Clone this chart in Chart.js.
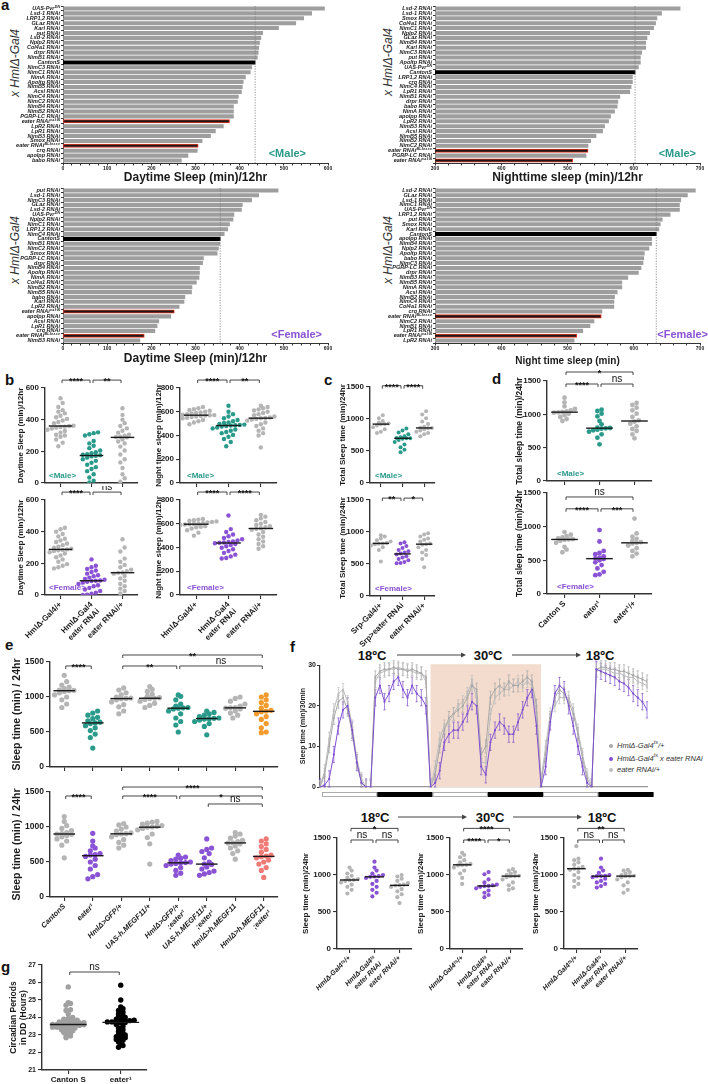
<!DOCTYPE html>
<html>
<head>
<meta charset="utf-8">
<script src="https://cdn.jsdelivr.net/npm/chart.js@4.4.0/dist/chart.umd.min.js"></script>
<style>
  body { margin: 0; width: 708px; height: 1084px; background: #fff; position: relative; overflow: hidden;
         font-family: "Liberation Sans", Arial, sans-serif; color: #111; }
  canvas { position: absolute; }
  .pl { position: absolute; font-weight: bold; font-size: 15px; line-height: 15px; }
  .tmp { position: absolute; font-weight: bold; font-size: 13px; transform: translate(-50%, -50%); white-space: nowrap; }
  .vt { position: absolute; transform: translate(-50%, -50%) rotate(-90deg); white-space: nowrap;
        font-style: italic; font-size: 12px; color: #333; }
  .leg { position: absolute; font-style: italic; font-size: 7.5px; color: #333; white-space: nowrap; }
  .leg span { display: inline-block; width: 4px; height: 4px; border-radius: 50%; margin-right: 4px; vertical-align: middle; }
  .leg sup { font-size: 5.5px; }
</style>
</head>
<body>
<div class="pl" style="left:1px;top:-3px">a</div>
<div class="pl" style="left:5px;top:372px">b</div>
<div class="pl" style="left:324px;top:372px">c</div>
<div class="pl" style="left:492px;top:371px">d</div>
<div class="pl" style="left:5px;top:637px">e</div>
<div class="pl" style="left:290px;top:639px">f</div>
<div class="pl" style="left:1px;top:959px">g</div>

<div class="vt" style="left:15px;top:63px">x HmlΔ-Gal4</div>
<div class="vt" style="left:388px;top:62px">x HmlΔ-Gal4</div>
<div class="vt" style="left:15px;top:250px">x HmlΔ-Gal4</div>
<div class="vt" style="left:388px;top:250px">x HmlΔ-Gal4</div>

<div class="tmp" style="left:372px;top:655px">18ºC</div>
<div class="tmp" style="left:488px;top:655px">30ºC</div>
<div class="tmp" style="left:600px;top:655px">18ºC</div>
<div class="tmp" style="left:375px;top:817px">18ºC</div>
<div class="tmp" style="left:490px;top:817px">30ºC</div>
<div class="tmp" style="left:602px;top:817px">18ºC</div>

<svg width="708" height="1084" style="position:absolute;left:0;top:0">
  <g stroke="#444" stroke-width="1">
    <line x1="397" y1="655" x2="462" y2="655"/><line x1="512" y1="655" x2="577" y2="655"/>
    <line x1="398" y1="817" x2="463" y2="817"/><line x1="513" y1="817" x2="578" y2="817"/>
  </g>
  <g fill="#444">
    <polygon points="461,652.5 466,655 461,657.5"/><polygon points="576,652.5 581,655 576,657.5"/>
    <polygon points="462,814.5 467,817 462,819.5"/><polygon points="577,814.5 582,817 577,819.5"/>
  </g>
</svg>

<div class="leg" style="left:609px;top:739px"><span style="background:#a8a8a8"></span>HmlΔ-Gal4<sup>ts</sup>/+</div>
<div class="leg" style="left:609px;top:752px"><span style="background:#8050d0"></span>HmlΔ-Gal4<sup>ts</sup> x eater RNAi</div>
<div class="leg" style="left:609px;top:765px"><span style="background:#bdbdbd"></span>eater RNAi/+</div>

<script>
// ---------- panel a: screen bars ----------
const aMaleDayLabels = ['UAS-Pvrᴰᴺ', 'Lsd-1 RNAi', 'LRP1,2 RNAi', 'GLaz RNAi', 'Karl RNAi', 'put RNAi', 'Lsd-2 RNAi', 'Nplp2 RNAi',
  'Col4a1 RNAi', 'drpr RNAi', 'NimB1 RNAi', 'CantonS', 'NimC3 RNAi', 'NimC1 RNAi', 'NimA RNAi', 'Apoltp RNAi', 'NimB5 RNAi',
  'Acsl RNAi', 'NimC4 RNAi', 'NimC2 RNAi', 'NimB4 RNAi', 'NimB2 RNAi', 'PGRP-LC RNAi', 'eater RNAiᵛ⁴³⁰¹', 'LpR2 RNAi', 'LpR1 RNAi',
  'NimB3 RNAi', 'Smox RNAi', 'eater RNAiᴮᴸ³⁵⁶⁶⁵', 'crq RNAi', 'apolpp RNAi', 'babo RNAi'];
const aMaleDayVals = [592, 563, 545, 527, 488, 452, 448, 445, 443, 442, 440, 435, 427, 424, 413, 408, 406,
  404, 397, 395, 386, 386, 386, 377, 363, 345, 334, 315, 306, 304, 283, 268];

const aMaleNightLabels = ['Lsd-2 RNAi', 'Lsd-1 RNAi', 'Smox RNAi', 'Col4a1 RNAi', 'NimC1 RNAi', 'Nplp2 RNAi', 'GLaz RNAi', 'NimB4 RNAi',
  'Karl RNAi', 'NimC3 RNAi', 'put RNAi', 'Apoltp RNAi', 'UAS-Pvrᴰᴺ', 'CantonS', 'LRP1,2 RNAi', 'crq RNAi', 'NimC4 RNAi', 'LpR1 RNAi',
  'NimB1 RNAi', 'drpr RNAi', 'babo RNAi', 'NimA RNAi', 'apolpp RNAi', 'LpR2 RNAi', 'NimB3 RNAi', 'Acsl RNAi', 'NimB5 RNAi',
  'NimB2 RNAi', 'NimC2 RNAi', 'eater RNAiᴮᴸ³⁵⁶⁶⁵', 'PGRP-LC RNAi', 'eater RNAiᵛ⁴³⁰¹'];
const aMaleNightVals = [670, 642, 635, 633, 630, 624, 620, 618, 618, 612, 610, 610, 607, 602, 598, 598, 596, 594,
  579, 576, 575, 571, 565, 562, 556, 553, 543, 535, 531, 531, 528, 508];

const aFemDayLabels = ['put RNAi', 'Lsd-1 RNAi', 'NimC3 RNAi', 'GLaz RNAi', 'Lsd-2 RNAi', 'UAS-Pvrᴰᴺ', 'Nplp2 RNAi', 'NimC1 RNAi',
  'LRP1,2 RNAi', 'NimC4 RNAi', 'CantonS', 'NimB1 RNAi', 'NimC2 RNAi', 'Smox RNAi', 'PGRP-LC RNAi', 'drpr RNAi', 'NimB4 RNAi',
  'Apoltp RNAi', 'NimA RNAi', 'Col4a1 RNAi', 'NimB2 RNAi', 'NimB5 RNAi', 'babo RNAi', 'Karl RNAi', 'LpR2 RNAi', 'eater RNAiᵛ⁴³⁰¹',
  'apolpp RNAi', 'Acsl RNAi', 'LpR1 RNAi', 'crq RNAi', 'eater RNAiᴮᴸ³⁵⁶⁶⁵', 'NimB3 RNAi'];
const aFemDayVals = [487, 443, 427, 406, 404, 387, 385, 377, 373, 365, 356, 355, 352, 349, 318, 316, 309,
  309, 308, 302, 292, 291, 276, 274, 263, 252, 244, 217, 213, 208, 184, 174];

const aFemNightLabels = ['Lsd-2 RNAi', 'GLaz RNAi', 'Lsd-1 RNAi', 'NimC1 RNAi', 'UAS-Pvrᴰᴺ', 'LRP1,2 RNAi', 'put RNAi', 'Smox RNAi',
  'Karl RNAi', 'CantonS', 'apolpp RNAi', 'NimB4 RNAi', 'Nplp2 RNAi', 'Apoltp RNAi', 'babo RNAi', 'NimC3 RNAi', 'PGRP-LC RNAi',
  'drpr RNAi', 'NimB3 RNAi', 'NimB5 RNAi', 'NimA RNAi', 'Acsl RNAi', 'NimB2 RNAi', 'NimC4 RNAi', 'Col4a1 RNAi', 'crq RNAi',
  'eater RNAiᴮᴸ³⁵⁶⁶⁵', 'NimC2 RNAi', 'NimB1 RNAi', 'LpR1 RNAi', 'eater RNAiᵛ⁴³⁰¹', 'LpR2 RNAi'];
const aFemNightVals = [693, 681, 671, 669, 669, 655, 643, 640, 638, 634, 627, 627, 623, 616, 615, 614, 611,
  607, 591, 582, 582, 575, 571, 570, 570, 552, 551, 540, 534, 523, 514, 510];

// ---------- panel b ----------
const bCats = ['HmlΔ-Gal4/+', ['HmlΔ-Gal4', 'eater RNAi'], 'eater RNAi/+'];
const bMaleDayHml = [535, 505, 480, 460, 450, 440, 425, 415, 405, 395, 385, 378, 362, 360, 356, 354, 350, 344, 336, 328, 318, 305, 292, 275, 255, 232, 300];
const bMaleDayRnai = [320, 315, 308, 300, 265, 250, 235, 220, 205, 195, 188, 182, 178, 175, 172, 168, 160, 150, 140, 128, 115, 100, 88, 75, 55, 35, 15, 3];
const bMaleDayCtl = [472, 430, 400, 378, 360, 345, 330, 318, 305, 298, 292, 290, 288, 275, 262, 250, 230, 205, 180, 150, 130, 95, 55, 30, 8];
const bMaleNightHml = [640, 630, 622, 615, 608, 600, 595, 590, 585, 580, 576, 572, 570, 568, 565, 560, 555, 550, 545, 538, 530, 520, 510, 495];
const bMaleNightRnai = [650, 600, 580, 560, 545, 530, 520, 510, 505, 498, 492, 488, 486, 484, 480, 475, 468, 460, 450, 440, 430, 420, 405, 390, 370, 345, 310];
const bMaleNightCtl = [650, 640, 630, 620, 610, 600, 590, 580, 570, 560, 552, 547, 545, 540, 535, 525, 510, 495, 480, 460, 440, 420, 400, 300];
const bFemDayHml = [425, 415, 400, 385, 370, 355, 345, 335, 325, 315, 305, 298, 292, 288, 285, 282, 278, 270, 262, 250, 238, 225, 210, 195, 185, 175, 168];
const bFemDayRnai = [225, 185, 175, 165, 155, 145, 135, 125, 118, 110, 102, 96, 92, 90, 88, 84, 78, 70, 62, 55, 45, 35, 25, 15, 8, 2, 0];
const bFemDayCtl = [352, 300, 275, 230, 210, 190, 175, 160, 150, 142, 140, 135, 120, 105, 90, 70, 55, 40, 25, 10];
const bFemNightHml = [640, 635, 630, 625, 620, 615, 610, 605, 600, 598, 596, 594, 590, 585, 580, 575, 570, 560, 545, 525, 500];
const bFemNightRnai = [670, 555, 530, 510, 495, 480, 470, 460, 452, 446, 442, 440, 436, 430, 422, 410, 398, 385, 370, 355, 340, 325, 312, 308];
const bFemNightCtl = [675, 660, 645, 630, 615, 600, 590, 580, 570, 562, 558, 550, 530, 510, 490, 470, 450, 430, 410, 390];

// ---------- panel c ----------
const cCats = ['Srp-Gal4/+', 'Srp>eater RNAi', 'eater RNAi/+'];
const cMaleSrp = [1060, 1010, 970, 945, 930, 922, 918, 900, 870, 840, 800, 780];
const cMaleRnai = [850, 820, 790, 760, 730, 715, 705, 700, 698, 690, 670, 640, 600, 560, 520, 480];
const cMaleCtl = [1120, 1070, 1010, 960, 920, 880, 865, 860, 855, 840, 820, 800, 780, 760, 730];
const cFemSrp = [950, 930, 900, 870, 850, 830, 822, 818, 810, 790, 760, 720, 540];
const cFemRnai = [840, 820, 780, 750, 720, 700, 680, 665, 650, 620, 600, 580, 560, 530, 515, 510];
const cFemCtl = [980, 960, 930, 900, 880, 850, 820, 810, 800, 760, 720, 680, 640, 580, 450];

// ---------- panel d ----------
const dCats = ['Canton S', 'eater¹', 'eater¹/+'];
const dMaleCS = [1250, 1180, 1120, 1080, 1060, 1045, 1035, 1030, 1025, 1010, 990, 960, 930, 900];
const dMaleEater = [1070, 1050, 1010, 970, 900, 850, 800, 795, 790, 785, 770, 760, 740, 700, 650, 550];
const dMaleHet = [1170, 1140, 1100, 1060, 1010, 960, 910, 890, 860, 820, 780, 750, 700, 640];
const dFemCS = [920, 880, 860, 840, 825, 815, 810, 805, 790, 760, 700, 660, 620];
const dFemEater = [950, 780, 640, 610, 590, 560, 540, 530, 520, 500, 470, 430, 380, 330, 290, 280];
const dFemHet = [1120, 900, 850, 820, 790, 770, 760, 750, 720, 680, 640, 600, 560];

// ---------- panel e ----------
const eCats = ['CantonS', 'eater¹', 'HmlΔ>GFP/+', 'UAS-h.MEGF11/+', ['HmlΔ>GFP/+', ';eater¹'],
  ['UAS-h.MEGF11/+', ';eater¹'], 'HmlΔ>h.MEGF11', ['HmlΔ>h.MEGF11', ';eater¹']];
const eTop = [
  [1310, 1220, 1170, 1140, 1120, 1100, 1095, 1090, 1080, 1060, 1030, 1000, 960, 900, 850],
  [800, 770, 740, 710, 690, 660, 640, 630, 620, 590, 560, 520, 470, 420, 270],
  [1130, 1100, 1060, 1030, 1000, 985, 980, 975, 960, 930, 890, 860, 800, 760],
  [1150, 1110, 1080, 1040, 1010, 990, 982, 978, 965, 940, 910, 880, 850],
  [1030, 1010, 960, 900, 870, 850, 845, 840, 830, 800, 760, 700, 650, 600, 500],
  [800, 780, 760, 740, 720, 700, 695, 690, 685, 670, 650, 620, 580, 460],
  [1000, 980, 940, 900, 870, 850, 845, 840, 830, 800, 770, 740, 700],
  [1030, 1000, 960, 920, 880, 840, 810, 800, 790, 760, 720, 680, 620, 560, 500, 490]
];
const eBottom = [
  [1150, 1080, 1020, 980, 950, 920, 905, 900, 895, 880, 860, 830, 800, 740, 560],
  [910, 800, 730, 700, 660, 620, 605, 600, 580, 540, 500, 450, 400, 320, 290, 260],
  [1050, 1030, 1000, 970, 940, 915, 905, 900, 890, 860, 820, 780, 740, 700],
  [1080, 1070, 1055, 1040, 1020, 1010, 1000, 995, 980, 960, 900, 850, 760, 470],
  [600, 570, 555, 540, 520, 500, 492, 488, 480, 470, 450, 420, 380, 340, 310],
  [830, 700, 680, 650, 620, 560, 500, 470, 465, 430, 400, 370, 350, 330, 310],
  [920, 900, 870, 840, 810, 790, 775, 770, 760, 730, 700, 660, 620, 540],
  [830, 800, 760, 720, 680, 640, 600, 585, 575, 560, 530, 500, 470, 420, 380, 280]
];

// ---------- panel f ----------
const fHmlTs = [0, 3, 10, 17, 21, 22, 19, 13, 6, 1, 0, 0,
  27, 28.5, 29, 29, 29.5, 29, 29, 28.5, 29, 28.5, 28, 27,
  0, 3, 10, 14, 17, 18, 19, 20, 22, 25, 24, 8,
  10, 22, 24, 25, 24, 26, 25, 25, 26, 27, 26, 20,
  1, 8, 17, 22, 24, 23, 21, 18, 13, 7, 2, 0,
  29, 29.5, 29.5, 29, 29, 28.5, 28.5, 28, 27.5, 27, 26.5, 26];
const fHmlTsEater = [0, 0.5, 2, 8, 15, 19, 20, 14, 6, 1, 0, 0,
  22, 25, 21, 23, 26, 27, 24, 22, 25, 23, 22, 20,
  0, 1, 4, 11, 13, 14, 14, 16, 18, 21, 20, 5,
  3, 11, 14, 16, 15, 13, 13, 16, 19, 22, 24, 15,
  0, 5, 16, 23, 25, 24, 20, 15, 10, 5, 1, 0,
  29, 28.5, 28, 27.5, 27, 26, 25.5, 24.5, 23, 22, 21, 19];
const fEaterCtl = [0, 4, 12, 19, 23, 24, 21, 15, 7, 2, 0, 0,
  26, 28, 28.5, 29, 29, 29.5, 29, 29, 28.5, 28, 28, 26,
  0, 5, 12, 15, 16, 18, 20, 21, 23, 26, 22, 6,
  6, 18, 22, 23, 24, 24, 25, 26, 25, 26, 25, 18,
  2, 10, 18, 20, 22, 22, 22, 19, 14, 8, 3, 0.5,
  28.5, 29, 29, 28.5, 28, 28, 27.5, 27, 27, 26, 25.5, 25];
const fSem = [1.6, 2.0, 1.5];           // Hml/+, Hml x eater RNAi, eater RNAi/+
const ldPhases = ['L', 'D', 'L', 'D', 'L', 'D'];   // 12 h each
const hotHours = [24, 48];              // 30ºC window

const fCats = ['HmlΔ-Gal4ᵗˢ/+', ['HmlΔ-Gal4ᵗˢ', 'eater RNAi'], 'eater RNAi/+'];
const f18a = [
  [1100, 1060, 1020, 990, 960, 945, 935, 930, 920, 900, 870, 840, 800, 750],
  [1180, 1100, 1060, 1020, 1000, 985, 980, 975, 960, 920, 880, 840, 800, 760, 710],
  [1000, 980, 950, 920, 890, 870, 862, 858, 840, 810, 780, 740, 700, 620]
];
const f30 = [
  [1300, 1270, 1240, 1200, 1170, 1150, 1140, 1135, 1130, 1100, 1060, 1020, 960, 880],
  [1040, 1010, 940, 900, 870, 860, 852, 850, 840, 820, 790, 760, 730, 700],
  [1080, 1060, 1040, 1020, 1000, 990, 986, 984, 970, 940, 900, 860, 820, 800]
];
const f18b = [
  [1390, 1220, 1200, 1170, 1140, 1110, 1090, 1085, 1070, 1040, 1000, 960, 920, 880, 840],
  [1220, 1100, 1060, 1030, 1000, 990, 986, 984, 970, 950, 920, 900, 880, 850, 830],
  [1070, 1060, 1040, 1020, 1000, 990, 986, 984, 970, 940, 900, 860, 800, 760]
];

// ---------- panel g ----------
const gCats = ['Canton S', 'eater¹'];
const gCantonS = [25.75, 24.85, 24.8, 24.7, 24.45, 24.4, 24.2, 24.0, 23.95, 23.9, 23.85, 23.8, 23.8, 23.75, 23.75, 23.7,
  23.7, 23.65, 23.65, 23.62, 23.6, 23.6, 23.6, 23.58, 23.55, 23.55, 23.5, 23.5, 23.5, 23.45, 23.45, 23.4, 23.4, 23.35,
  23.3, 23.25, 23.2, 23.15, 23.1, 23.0, 22.95, 22.85];
const gEater = [25.85, 25.0, 24.6, 24.5, 24.4, 24.3, 24.2, 24.1, 24.05, 24.0, 23.95, 23.9, 23.85, 23.82, 23.8, 23.78,
  23.76, 23.75, 23.75, 23.72, 23.7, 23.6, 23.5, 23.4, 23.3, 23.2, 23.1, 23.05, 23.0, 22.95, 22.9, 22.85, 22.8, 22.75,
  22.7, 22.6, 22.45, 22.4, 22.3];

// ---------- colours ----------
const GRAY = '#b5b5b5', TEAL = '#2a9a8a', PURPLE = '#8a52d4', ORANGE = '#f39a2c', SALMON = '#f07a76', AX = '#333';

Chart.defaults.font.family = '"Liberation Sans", Arial, sans-serif';
Chart.defaults.color = '#1a1a1a';
Chart.defaults.animation = false;
Chart.defaults.responsive = false;
Chart.defaults.events = [];
Chart.defaults.plugins.legend.display = false;
Chart.defaults.plugins.tooltip.enabled = false;

function place(x0, y0, x1, y1, m) {
  const c = document.createElement('canvas');
  const w = x1 - x0 + m.l + m.r, h = y1 - y0 + m.t + m.b;
  c.width = w; c.height = h;
  c.style.left = (x0 - m.l) + 'px'; c.style.top = (y0 - m.t) + 'px';
  c.style.width = w + 'px'; c.style.height = h + 'px';
  document.body.appendChild(c);
  return c;
}

function median(a) {
  const s = a.slice().sort((p, q) => p - q), n = s.length;
  return n % 2 ? s[(n - 1) / 2] : (s[n / 2 - 1] + s[n / 2]) / 2;
}

// spread dots of similar value sideways (scatter dot plot look)
function swarm(vals, cat, bin, dx) {
  const s = vals.slice().sort((p, q) => p - q), pts = [];
  let i = 0;
  while (i < s.length) {
    let j = i;
    while (j < s.length && s[j] - s[i] < bin) j++;
    const n = j - i;
    for (let k = 0; k < n; k++) pts.push({ x: cat + (k - (n - 1) / 2) * dx, y: s[i + k] });
    i = j;
  }
  return pts;
}

const refLine = {
  id: 'refline',
  afterDatasetsDraw(chart, args, o) {
    const { ctx, chartArea: ca, scales: { x } } = chart;
    const px = x.getPixelForValue(o.value);
    ctx.save(); ctx.strokeStyle = '#777'; ctx.lineWidth = 0.8; ctx.setLineDash([1.2, 1.4]);
    ctx.beginPath(); ctx.moveTo(px, ca.top); ctx.lineTo(px, ca.bottom); ctx.stroke(); ctx.restore();
  }
};

const tagPlugin = {
  id: 'tag',
  afterDraw(chart, args, o) {
    if (!o.text) return;
    const { ctx, chartArea: ca } = chart;
    ctx.save(); ctx.font = 'bold ' + o.size + 'px "Liberation Sans", Arial'; ctx.fillStyle = o.color;
    ctx.textAlign = o.align; ctx.textBaseline = 'middle';
    ctx.fillText(o.text, o.align === 'left' ? ca.left + o.dx : ca.right - o.dx, ca.bottom - o.dy);
    ctx.restore();
  }
};

const medianPlugin = {
  id: 'medians',
  afterDatasetsDraw(chart, args, o) {
    const { ctx, scales: { x, y } } = chart;
    ctx.save(); ctx.strokeStyle = '#1a1a1a'; ctx.lineWidth = 1.4;
    chart.data.datasets.forEach(ds => {
      const py = y.getPixelForValue(median(ds.vals));
      ctx.beginPath(); ctx.moveTo(x.getPixelForValue(ds.cat - o.half), py);
      ctx.lineTo(x.getPixelForValue(ds.cat + o.half), py); ctx.stroke();
    });
    ctx.restore();
  }
};

const bracketPlugin = {
  id: 'brackets',
  afterDraw(chart, args, o) {
    const { ctx, scales: { x, y } } = chart;
    ctx.save(); ctx.strokeStyle = '#333'; ctx.fillStyle = '#111'; ctx.lineWidth = 0.9; ctx.textAlign = 'center';
    (o.list || []).forEach(b => {
      const x1 = x.getPixelForValue(b[0]) + 1.5, x2 = x.getPixelForValue(b[1]) - 1.5, py = y.getPixelForValue(b[2]);
      ctx.beginPath(); ctx.moveTo(x1, py + 3); ctx.lineTo(x1, py); ctx.lineTo(x2, py); ctx.lineTo(x2, py + 3); ctx.stroke();
      if (b[3] === 'ns') {
        ctx.font = '10px "Liberation Sans", Arial'; ctx.textBaseline = 'bottom'; ctx.fillText('ns', (x1 + x2) / 2, py);
      } else {
        ctx.font = 'bold 9px "Liberation Sans", Arial'; ctx.textBaseline = 'alphabetic'; ctx.fillText(b[3], (x1 + x2) / 2, py + 4);
      }
    });
    ctx.restore();
  }
};

function hbar(o) {
  const cv = place(o.x0, o.y0, o.x1, o.y1, o.m);
  const isE = l => l.startsWith('eater');
  new Chart(cv, {
    type: 'bar',
    data: {
      labels: o.labels,
      datasets: [{
        data: o.vals,
        backgroundColor: o.labels.map(l => l === 'CantonS' ? '#000' : isE(l) ? '#1a1a1a' : '#9e9e9e'),
        borderColor: o.labels.map(l => isE(l) ? '#e8321e' : 'rgba(0,0,0,0)'),
        borderWidth: o.labels.map(l => isE(l) ? 1 : 0),
        borderSkipped: false,
        barThickness: 3.4
      }]
    },
    options: {
      indexAxis: 'y',
      layout: { padding: { top: o.m.t, right: o.m.r, left: 0, bottom: 0 } },
      scales: {
        y: {
          afterFit: s => { s.width = o.m.l; },
          ticks: { autoSkip: false, padding: 1, color: '#222', font: { size: 5.5, style: 'italic', weight: 'bold' } },
          grid: { drawOnChartArea: false, tickLength: 2, color: AX },
          border: { color: AX, width: 1 }
        },
        x: {
          min: o.min, max: o.max,
          afterFit: s => { s.height = o.m.b; },
          ticks: { stepSize: 20, autoSkip: false, maxRotation: 0, padding: 0,
                   callback: v => v % 100 === 0 ? String(v) : '', font: { size: 5, weight: 'bold' } },
          grid: { drawOnChartArea: false, tickLength: 2.5, color: AX },
          border: { color: AX, width: 1 },
          title: { display: true, text: o.title, font: { size: o.tsize, weight: 'bold' }, padding: { top: 0, bottom: 1 } }
        }
      },
      plugins: {
        refline: { value: o.vals[o.labels.indexOf('CantonS')] },
        tag: o.tag
      }
    },
    plugins: [refLine, tagPlugin]
  });
}

function dots(o) {
  const cv = place(o.x0, o.y0, o.x1, o.y1, o.m);
  const n = o.cats.length;
  const datasets = o.groups.map((g, i) => ({
    data: swarm(g[0], i, o.bin, o.dx), vals: g[0], cat: i,
    backgroundColor: g[1], pointRadius: o.r, pointBorderWidth: 0
  }));
  new Chart(cv, {
    type: 'scatter',
    data: { datasets },
    options: {
      layout: { padding: { top: o.m.t, right: o.m.r, left: 0, bottom: 0 } },
      scales: {
        x: {
          type: 'linear', min: -0.5, max: n - 0.5,
          afterBuildTicks: s => { s.ticks = o.cats.map((c, i) => ({ value: i })); },
          afterFit: s => { s.height = o.m.b; },
          ticks: { display: !!o.showX, autoSkip: false, minRotation: o.rot || 0, maxRotation: o.rot || 0, padding: 1,
                   callback: v => o.cats[Math.round(v)], font: o.xfont || { size: 8, weight: 'bold' } },
          grid: { drawOnChartArea: false, tickLength: 4, color: AX, lineWidth: 1.1 },
          border: { color: AX, width: 1.4 }
        },
        y: {
          min: o.ymin, max: o.ymax,
          afterFit: s => { s.width = o.m.l; },
          ticks: { stepSize: o.step, padding: 2, callback: v => String(v), font: { size: o.tick || 8, weight: 'bold' } },
          grid: { drawOnChartArea: false, tickLength: 4, color: AX, lineWidth: 1.1 },
          border: { color: AX, width: 1.4 },
          title: { display: true, text: o.ytitle, font: { size: o.tfs, weight: 'bold' }, padding: { top: o.tpad, bottom: 0 } }
        }
      },
      plugins: { medians: { half: o.half || 0.38 }, brackets: { list: o.br }, tag: o.tag || {} }
    },
    plugins: [medianPlugin, bracketPlugin, tagPlugin]
  });
}

// ---- panel a ----
const maleTag = (dx, dy) => ({ text: '<Male>', color: TEAL, size: 11, align: 'right', dx, dy });
const femTag = (dx, dy) => ({ text: '<Female>', color: PURPLE, size: 11, align: 'right', dx, dy });
hbar({ x0: 63, y0: 6, x1: 328, y1: 163, m: { l: 63, t: 6, r: 14, b: 23 }, labels: aMaleDayLabels, vals: aMaleDayVals,
  min: 0, max: 600, title: 'Daytime Sleep (min)/12hr', tsize: 12, tag: maleTag(22, 9) });
hbar({ x0: 435, y0: 6, x1: 700, y1: 163, m: { l: 80, t: 6, r: 8, b: 23 }, labels: aMaleNightLabels, vals: aMaleNightVals,
  min: 300, max: 700, title: 'Nighttime sleep (min)/12hr', tsize: 12, tag: maleTag(4, 9) });
hbar({ x0: 63, y0: 188, x1: 328, y1: 343, m: { l: 63, t: 6, r: 14, b: 24 }, labels: aFemDayLabels, vals: aFemDayVals,
  min: 0, max: 600, title: 'Daytime Sleep (min)/12hr', tsize: 12, tag: femTag(6, 8) });
hbar({ x0: 435, y0: 188, x1: 700, y1: 343, m: { l: 80, t: 6, r: 8, b: 25 }, labels: aFemNightLabels, vals: aFemNightVals,
  min: 300, max: 700, title: 'Night time sleep (min)', tsize: 10, tag: femTag(-8, 8) });

// ---- panel b ----
const smallTag = (t, c, dx) => ({ text: t, color: c, size: 8, align: 'left', dx, dy: 7 });
dots({ x0: 45, y0: 388, x1: 138, y1: 483, m: { l: 45, t: 18, r: 6, b: 8 }, cats: bCats,
  groups: [[bMaleDayHml, GRAY], [bMaleDayRnai, TEAL], [bMaleDayCtl, GRAY]], ymin: 0, ymax: 600, step: 200,
  ytitle: 'Daytime Sleep (min)/12hr', tfs: 8, tpad: 16, bin: 28, dx: 0.14, r: 2.2,
  br: [[0, 1, 650, '****'], [1, 2, 650, '**']], tag: smallTag('<Male>', TEAL, 4) });
dots({ x0: 45, y0: 500, x1: 138, y1: 595, m: { l: 45, t: 14, r: 6, b: 70 }, cats: bCats,
  groups: [[bFemDayHml, GRAY], [bFemDayRnai, PURPLE], [bFemDayCtl, GRAY]], ymin: 0, ymax: 600, step: 200,
  ytitle: 'Daytime Sleep (min)/12hr', tfs: 8, tpad: 16, bin: 28, dx: 0.14, r: 2.2, showX: true, rot: 45,
  br: [[0, 1, 650, '****'], [1, 2, 650, 'ns']], tag: smallTag('<Female>', PURPLE, 4) });
dots({ x0: 180, y0: 388, x1: 277, y1: 483, m: { l: 32, t: 18, r: 6, b: 8 }, cats: bCats,
  groups: [[bMaleNightHml, GRAY], [bMaleNightRnai, TEAL], [bMaleNightCtl, GRAY]], ymin: 0, ymax: 800, step: 200,
  ytitle: 'Night time sleep (min)/12hr', tfs: 8, tpad: 6, bin: 36, dx: 0.14, r: 2.2,
  br: [[0, 1, 867, '****'], [1, 2, 867, '**']], tag: smallTag('<Male>', TEAL, 7) });
dots({ x0: 180, y0: 500, x1: 277, y1: 595, m: { l: 32, t: 14, r: 6, b: 70 }, cats: bCats,
  groups: [[bFemNightHml, GRAY], [bFemNightRnai, PURPLE], [bFemNightCtl, GRAY]], ymin: 0, ymax: 800, step: 200,
  ytitle: 'Night time sleep (min)/12hr', tfs: 8, tpad: 6, bin: 36, dx: 0.14, r: 2.2, showX: true, rot: 45,
  br: [[0, 1, 867, '****'], [1, 2, 867, '****']], tag: smallTag('<Female>', PURPLE, 7) });

// ---- panel c ----
dots({ x0: 370, y0: 387, x1: 435, y1: 483, m: { l: 35, t: 15, r: 6, b: 8 }, cats: cCats,
  groups: [[cMaleSrp, GRAY], [cMaleRnai, TEAL], [cMaleCtl, GRAY]], ymin: 0, ymax: 1500, step: 500,
  ytitle: 'Total Sleep time (min)/24hr', tfs: 8, tpad: 3, bin: 62, dx: 0.18, r: 2,
  br: [[0, 1, 1520, '****'], [1, 2, 1520, '****']], tag: smallTag('<Male>', TEAL, 5) });
dots({ x0: 370, y0: 500, x1: 435, y1: 596, m: { l: 35, t: 14, r: 6, b: 70 }, cats: cCats,
  groups: [[cFemSrp, GRAY], [cFemRnai, PURPLE], [cFemCtl, GRAY]], ymin: 0, ymax: 1500, step: 500,
  ytitle: 'Total Sleep time (min)/24hr', tfs: 8, tpad: 3, bin: 62, dx: 0.18, r: 2, showX: true, rot: 45,
  br: [[0, 1, 1530, '**'], [1, 2, 1530, '*']], tag: smallTag('<Female>', PURPLE, 5) });

// ---- panel d ----
dots({ x0: 547, y0: 381, x1: 652, y1: 481, m: { l: 37, t: 21, r: 6, b: 8 }, cats: dCats,
  groups: [[dMaleCS, GRAY], [dMaleEater, TEAL], [dMaleHet, GRAY]], ymin: 0, ymax: 1500, step: 500,
  ytitle: 'Total sleep time (min)/24hr', tfs: 8.5, tpad: 5, bin: 60, dx: 0.12, r: 2.4,
  br: [[0, 2, 1635, '*'], [0, 1, 1455, '****'], [1, 2, 1455, 'ns']], tag: smallTag('<Male>', TEAL, 10) });
dots({ x0: 547, y0: 493, x1: 652, y1: 594, m: { l: 37, t: 15, r: 6, b: 75 }, cats: dCats,
  groups: [[dFemCS, GRAY], [dFemEater, PURPLE], [dFemHet, GRAY]], ymin: 0, ymax: 1500, step: 500,
  ytitle: 'Total sleep time (min)/24hr', tfs: 8.5, tpad: 5, bin: 60, dx: 0.12, r: 2.4, showX: true, rot: 45,
  br: [[0, 2, 1441, 'ns'], [0, 1, 1265, '****'], [1, 2, 1265, '***']], tag: smallTag('<Female>', PURPLE, 10) });

// ---- panel e ----
const eTopColors = [GRAY, TEAL, GRAY, GRAY, TEAL, TEAL, GRAY, ORANGE];
const eBotColors = [GRAY, PURPLE, GRAY, GRAY, PURPLE, PURPLE, GRAY, SALMON];
dots({ x0: 50, y0: 662, x1: 278, y1: 767, m: { l: 50, t: 20, r: 6, b: 8 }, cats: eCats,
  groups: eTop.map((v, i) => [v, eTopColors[i]]), ymin: 0, ymax: 1500, step: 500,
  ytitle: 'Sleep time (min) / 24hr', tfs: 10.5, tpad: 11, bin: 70, dx: 0.17, r: 2.6, tick: 8.5,
  br: [[0, 1, 1443, '****'], [2, 7, 1600, '**'], [2, 4, 1443, '**'], [4, 7, 1443, 'ns']] });
dots({ x0: 50, y0: 792, x1: 278, y1: 897, m: { l: 50, t: 16, r: 6, b: 72 }, cats: eCats,
  groups: eBottom.map((v, i) => [v, eBotColors[i]]), ymin: 0, ymax: 1500, step: 500,
  ytitle: 'Sleep time (min) / 24hr', tfs: 10.5, tpad: 11, bin: 70, dx: 0.17, r: 2.6, tick: 8.5,
  showX: true, rot: 45, xfont: { size: 7.5, style: 'italic', weight: 'bold' },
  br: [[0, 1, 1443, '****'], [2, 7, 1571, '****'], [2, 4, 1443, '****'], [4, 7, 1443, '*'], [5, 7, 1329, 'ns']] });

// ---- panel f (time course) ----
const fHours = fHmlTs.map((v, i) => i);
const shadeAndLD = {
  id: 'shadeld',
  beforeDatasetsDraw(chart) {
    const { ctx, chartArea: ca, scales: { x } } = chart;
    ctx.save(); ctx.fillStyle = '#f3dccd';
    const a = x.getPixelForValue(hotHours[0]), b = x.getPixelForValue(hotHours[1]);
    ctx.fillRect(a, ca.top - 1, b - a, ca.bottom - ca.top + 1);
    // error bars
    chart.data.datasets.forEach((ds, di) => {
      const meta = chart.getDatasetMeta(di);
      ctx.strokeStyle = ds.borderColor; ctx.lineWidth = 0.7;
      meta.data.forEach((pt, i) => {
        const y = chart.scales.y, v = ds.data[i].y;
        const t = y.getPixelForValue(v + ds.sem), bt = y.getPixelForValue(Math.max(0, v - ds.sem));
        ctx.beginPath(); ctx.moveTo(pt.x, t); ctx.lineTo(pt.x, bt);
        ctx.moveTo(pt.x - 1.2, t); ctx.lineTo(pt.x + 1.2, t); ctx.moveTo(pt.x - 1.2, bt); ctx.lineTo(pt.x + 1.2, bt);
        ctx.stroke();
      });
    });
    ctx.restore();
  },
  afterDraw(chart) {
    const { ctx, chartArea: ca, scales: { x } } = chart;
    ctx.save();
    ldPhases.forEach((p, k) => {
      const a = x.getPixelForValue(k * 12) + 2, b = x.getPixelForValue(k * 12 + 12) + 2;
      if (p === 'D') { ctx.fillStyle = '#000'; ctx.fillRect(a, ca.bottom + 5, b - a, 5); }
      else { ctx.strokeStyle = '#999'; ctx.lineWidth = 0.8; ctx.strokeRect(a + 0.5, ca.bottom + 5.5, b - a - 1, 4); }
    });
    ctx.restore();
  }
};
(function () {
  const cv = place(320, 665, 647, 787, { l: 25, t: 5, r: 10, b: 14 });
  const mk = (vals, col, sem) => ({ data: vals.map((v, i) => ({ x: fHours[i], y: v })), borderColor: col, backgroundColor: col,
    borderWidth: 1, pointRadius: 1.1, pointBorderWidth: 0, sem, showLine: true, tension: 0 });
  new Chart(cv, {
    type: 'scatter',
    data: { datasets: [mk(fHmlTsEater, '#8050d0', fSem[1]), mk(fHmlTs, '#a8a8a8', fSem[0]), mk(fEaterCtl, '#bdbdbd', fSem[2])] },
    options: {
      layout: { padding: { top: 5, right: 10, left: 0, bottom: 0 } },
      scales: {
        x: { type: 'linear', min: 0, max: fHours.length - 1, afterFit: s => { s.height = 14; },
             ticks: { display: false }, grid: { display: false }, border: { color: '#999', width: 1.2 } },
        y: { min: 0, max: 30, afterFit: s => { s.width = 25; },
             ticks: { stepSize: 10, padding: 1, font: { size: 7, weight: 'bold' } },
             grid: { drawOnChartArea: false, tickLength: 3, color: AX }, border: { color: AX, width: 1.2 },
             title: { display: true, text: 'Sleep time (min)/30min', font: { size: 7, weight: 'bold' }, padding: { top: 3.8, bottom: 0 } } }
      }
    },
    plugins: [shadeAndLD]
  });
})();

const fGroupsColors = [GRAY, PURPLE, GRAY];
const fFont = { size: 7, style: 'italic', weight: 'bold' };
dots({ x0: 337, y0: 838, x1: 412, y1: 949, m: { l: 37, t: 18, r: 6, b: 55 }, cats: fCats,
  groups: f18a.map((v, i) => [v, fGroupsColors[i]]), ymin: 0, ymax: 1500, step: 500,
  ytitle: 'Sleep time (min)/24hr', tfs: 8, tpad: 0.5, bin: 55, dx: 0.17, r: 2.1, showX: true, rot: 45, xfont: fFont,
  br: [[0, 2, 1630, '*'], [0, 1, 1473, 'ns'], [1, 2, 1473, 'ns']] });
dots({ x0: 450, y0: 838, x1: 523, y1: 949, m: { l: 35, t: 18, r: 6, b: 55 }, cats: fCats,
  groups: f30.map((v, i) => [v, fGroupsColors[i]]), ymin: 0, ymax: 1500, step: 500,
  ytitle: 'Sleep time (min)/24hr', tfs: 8, tpad: 0.5, bin: 55, dx: 0.17, r: 2.1, showX: true, rot: 45, xfont: fFont,
  br: [[0, 2, 1630, '****'], [0, 1, 1473, '****'], [1, 2, 1473, '*']] });
dots({ x0: 564, y0: 838, x1: 638, y1: 949, m: { l: 34, t: 18, r: 6, b: 55 }, cats: fCats,
  groups: f18b.map((v, i) => [v, fGroupsColors[i]]), ymin: 0, ymax: 1500, step: 500,
  ytitle: 'Sleep time (min)/24hr', tfs: 8, tpad: 0.5, bin: 55, dx: 0.17, r: 2.1, showX: true, rot: 45, xfont: fFont,
  br: [[0, 2, 1630, '**'], [0, 1, 1473, 'ns'], [1, 2, 1473, 'ns']] });

// ---- panel g ----
dots({ x0: 42, y0: 965, x1: 147, y1: 1070, m: { l: 42, t: 10, r: 10, b: 14 }, cats: gCats,
  groups: [[gCantonS, '#a0a0a0'], [gEater, '#000']], ymin: 21, ymax: 27, step: 1,
  ytitle: ['Circadian Periods', 'in DD (Hours)'], tfs: 8.5, tpad: 8.5, bin: 0.14, dx: 0.085, r: 2.7, tick: 7,
  showX: true, rot: 0, xfont: { size: 8, weight: 'bold' }, half: 0.35,
  br: [[0, 1, 26.6, 'ns']] });
</script>
</body>
</html>
